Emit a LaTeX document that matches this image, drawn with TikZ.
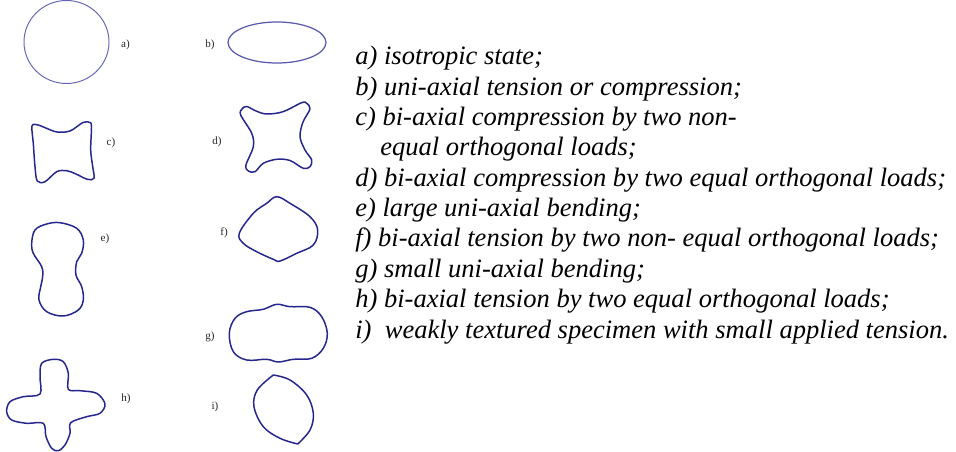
\documentclass[tikz,border=0pt]{standalone}
\usepackage{fontspec}
\setmainfont{Liberation Serif}
\usepackage{tikz}
\usetikzlibrary{positioning}
\definecolor{shapeblue}{RGB}{38,38,140}
\definecolor{circblue}{RGB}{100,100,180}
\tikzset{
  outline/.style={draw=shapeblue, line width=0.85pt, line join=round},
  thinoutline/.style={draw=circblue, line width=0.55pt},
  tag/.style={font=\fontsize{6.3}{7}\selectfont, text=black!85, inner sep=0pt},
  item/.style={font=\fontsize{15.1}{17}\selectfont\itshape, anchor=base west, inner sep=0pt}
}

\begin{document}
\begin{tikzpicture}[x=0.02cm, y=-0.02cm]
        \useasboundingbox (0,0) rectangle (956,452);

        % a) and b): circle and ellipse
        \draw [thinoutline] (66.5,42) ellipse [x radius=42.5, y radius=41.5];
        \draw [outline, draw=circblue!80!shapeblue, line width=0.7pt] (277,42.5) ellipse [x radius=49, y radius=20.5];

        % c) bi-axial compression, non-equal
        \draw [outline] plot [smooth cycle, tension=0.55] coordinates {
            (32,126) (38,125) (47,128.5) (57,132) (70,131) (83,122.5) (90,122.5)
            (91.5,127) (90.7,150) (92.7,166.7) (94,178.3) (87.3,179.3) (76,174)
            (66.7,170.7) (56.7,171.7) (45,181.7) (37.3,181) (35,166.7) (33.3,143.3)};

        % d) bi-axial compression, equal
        \draw [outline] plot [smooth cycle, tension=0.55] coordinates {
            (240.7,115) (242,109) (246.7,106.5) (256,111) (266.7,114) (283,111.7) (301.7,102.7)
            (306.7,103.3) (310,109) (303,122) (300,136.7) (305,150) (311.7,160) (310,166.7)
            (303.3,168.3) (290,160.5) (276.7,159.3) (263.3,163.3) (255,171.7) (248.3,171)
            (246,165) (253.3,146.7) (251.7,133.3)};

        % e) large uni-axial bending
        \draw [outline] plot [smooth cycle, tension=0.6] coordinates {
            (60,222.7) (76.7,228.3) (83.3,240) (81.7,253.3) (76.7,261.7) (76,275)
            (81.7,286.7) (83.3,300) (78.3,310) (63.3,316) (46.7,311.7) (39,300)
            (40.7,286.7) (42.7,276.7) (41.7,266.7) (33.3,253.3) (31.7,243.3) (35,230) (46.7,224)};

        % f) bi-axial tension, non-equal
        \draw [outline] plot [smooth cycle, tension=0.6] coordinates {
            (239.3,233.3) (253.3,213.3) (266.7,203.3) (276.7,196.7) (290,203.3) (310,216.7)
            (317.7,230) (313.3,245) (296.7,253.3) (280,261) (273.3,259.3) (256.7,251.7) (243.3,243.3)};

        % g) small uni-axial bending
        \draw [outline] plot [smooth cycle, tension=0.6] coordinates {
            (229.3,333.3) (235,318.3) (246.7,311.7) (263.3,309.3) (276.7,304.3) (290,306.7)
            (310,307.3) (321.7,316.7) (327.3,333.3) (323.3,348.3) (311.7,358.3) (293.3,359.3)
            (278.3,362) (266.7,359.3) (246.7,360) (233.3,351.7)};

        % h) bi-axial tension, equal
        \draw [outline] plot [smooth cycle, tension=0.55] coordinates {
            (53.3,359.3) (63.3,361.7) (68.3,373.3) (68.3,389.3) (80,390.7) (96.7,393.3)
            (105,404) (100,413.3) (86.7,416.7) (70.7,422.7) (70,433.3) (65,445) (58.3,450.7)
            (51.7,448.3) (46,436.7) (43.3,423.3) (26.7,423.3) (11.7,420) (6.7,411.7)
            (10,401.7) (23.3,396.7) (40,394) (40,376.7) (41.7,363.3)};

        % i) weakly textured specimen
        \draw [outline] plot [smooth, tension=0.6] coordinates {
            (273.3,375) (290,380) (306.7,395) (313.3,413.3) (310,430) (297.7,444)}
            plot [smooth, tension=0.6] coordinates {
            (297.7,444) (280,438.3) (263.3,426.7) (254,406.7) (257.3,390) (273.3,375)};

        % small labels beside the shapes
        \foreach \n/\x/\y in {a/125.5/45, b/210/45, c/111/143, d/217/142, e/105/239,
                              f/224/233, g/210/337, h/126/399, i/215/407}
            \node [tag] (tag\n) at (\x,\y) {\n)};

        % legend
        \node [item] (itema) at (355,65) {a) isotropic state;};
        \node [item] (itemb) at (355,95.3) {b) uni-axial tension or compression;};
        \node [item] (itemc) at (355,125.7) {c) bi-axial compression by two non-};
        \node [item] (itemcc) at (380,156) {equal orthogonal loads;};
        \node [item] (itemd) at (355,186.3) {d) bi-axial compression by two equal orthogonal loads;};
        \node [item] (iteme) at (355,216.7) {e) large uni-axial bending;};
        \node [item] (itemf) at (355,247) {f) bi-axial tension by two non- equal orthogonal loads;};
        \node [item] (itemg) at (355,277.3) {g) small uni-axial bending;};
        \node [item] (itemh) at (355,307.7) {h) bi-axial tension by two equal orthogonal loads;};
        \node [item] (itemi) at (355,338) {i)\ \ weakly textured specimen with small applied tension.};

    \end{tikzpicture}
\end{document}
